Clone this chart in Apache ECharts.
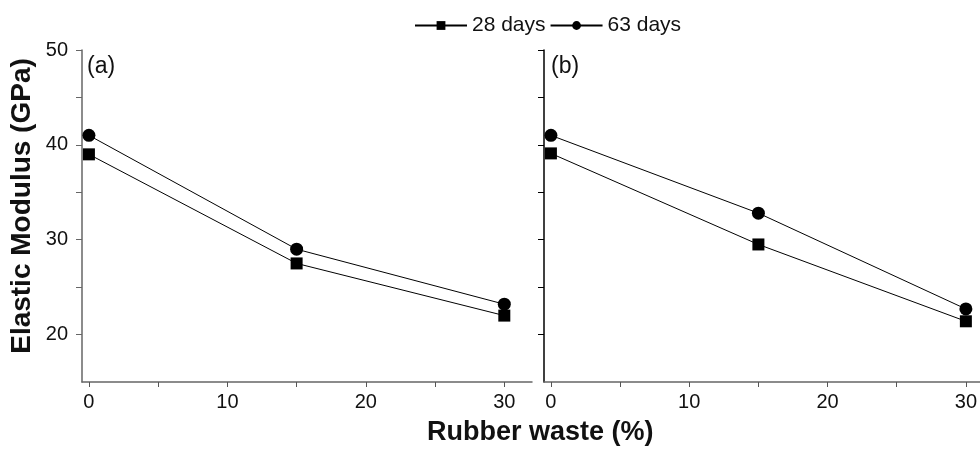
<!DOCTYPE html>
<html>
<head>
<meta charset="utf-8">
<script src="https://cdn.jsdelivr.net/npm/echarts@6/dist/echarts.min.js"></script>
<style>
html,body{margin:0;padding:0;background:#fff;}
#chart{width:980px;height:450px;}
</style>
</head>
<body>
<div id="chart"></div>
<script>
// ---- data ----
const rubberWaste = [0, 15, 30];
const panelA_28days = [39.0, 27.5, 22.0];
const panelA_63days = [41.0, 29.0, 23.2];
const panelB_28days = [39.1, 29.5, 21.4];
const panelB_63days = [41.0, 32.8, 22.7];
const seriesNames = ['28 days', '63 days'];
const xTickValues = [0, 5, 10, 15, 20, 25, 30];
const xLabelValues = [0, 10, 20, 30];
const yTickValues = [20, 25, 30, 35, 40, 45, 50];
const yLabelValues = [20, 30, 40, 50];
const panelLabels = ['(a)', '(b)'];
const yTitle = 'Elastic Modulus (GPa)';
const xTitle = 'Rubber waste (%)';

const FONT = 'Liberation Sans, Arial, sans-serif';
const pairs = (xs, ys) => xs.map((x, i) => [x, ys[i]]);

function xAxis(gridIndex, max) {
  return {
    type: 'value', gridIndex, min: -0.5, max,
    axisLine: { show: true, lineStyle: { color: '#666', width: 1.5 } },
    axisTick: { show: true, inside: false, length: 5, customValues: xTickValues, lineStyle: { color: '#555' } },
    axisLabel: { show: true, customValues: xLabelValues, margin: 10, color: '#111', fontSize: 20, fontFamily: FONT },
    splitLine: { show: false }
  };
}
function yAxis(gridIndex, showLabels, color) {
  return {
    type: 'value', gridIndex, min: 15, max: 50,
    axisLine: { show: true, onZero: false, lineStyle: { color, width: 1.5 } },
    axisTick: { show: true, inside: false, length: 6, customValues: yTickValues, lineStyle: { color } },
    axisLabel: { show: showLabels, customValues: yLabelValues, margin: 14, color: '#111', fontSize: 20, fontFamily: FONT },
    splitLine: { show: false }
  };
}
function lineSeries(name, symbol, size, xi, data) {
  return {
    name, type: 'line', xAxisIndex: xi, yAxisIndex: xi,
    data, symbol, symbolSize: size, showAllSymbol: true,
    lineStyle: { color: '#000', width: 1 },
    itemStyle: { color: '#000' },
    emphasis: { disabled: true },
    animation: false
  };
}

const chart = echarts.init(document.getElementById('chart'), null, { renderer: 'canvas' });
chart.setOption({
  animation: false,
  backgroundColor: '#fff',
  legend: {
    data: seriesNames,
    left: 409, top: 10,
    itemWidth: 52, itemHeight: 11, itemGap: 4,
    textStyle: { fontSize: 21, fontFamily: FONT, color: '#111' }
  },
  grid: [
    { left: 82, right: 448, top: 50, bottom: 68, containLabel: false },
    { left: 544, right: 0, top: 50, bottom: 68, containLabel: false }
  ],
  xAxis: [xAxis(0, 32), xAxis(1, 31)],
  yAxis: [yAxis(0, true, '#666'), yAxis(1, false, '#000')],
  series: [
    lineSeries(seriesNames[0], 'rect', 12, 0, pairs(rubberWaste, panelA_28days)),
    lineSeries(seriesNames[1], 'circle', 13, 0, pairs(rubberWaste, panelA_63days)),
    lineSeries(seriesNames[0], 'rect', 12, 1, pairs(rubberWaste, panelB_28days)),
    lineSeries(seriesNames[1], 'circle', 13, 1, pairs(rubberWaste, panelB_63days))
  ],
  graphic: [
    { type: 'text', left: 87, top: 55, style: { text: panelLabels[0], fontSize: 23, fontFamily: FONT, fill: '#111' } },
    { type: 'text', left: 551, top: 55, style: { text: panelLabels[1], fontSize: 23, fontFamily: FONT, fill: '#111' } },
    { type: 'text', x: 22, y: 206, rotation: Math.PI / 2,
      style: { text: yTitle, fontSize: 28, fontWeight: 'bold', fontFamily: FONT, fill: '#111', align: 'center', verticalAlign: 'middle' } },
    { type: 'text', x: 427, y: 433,
      style: { text: xTitle, fontSize: 27, fontWeight: 'bold', fontFamily: FONT, fill: '#111', align: 'left', verticalAlign: 'middle' } }
  ]
});
</script>
</body>
</html>
